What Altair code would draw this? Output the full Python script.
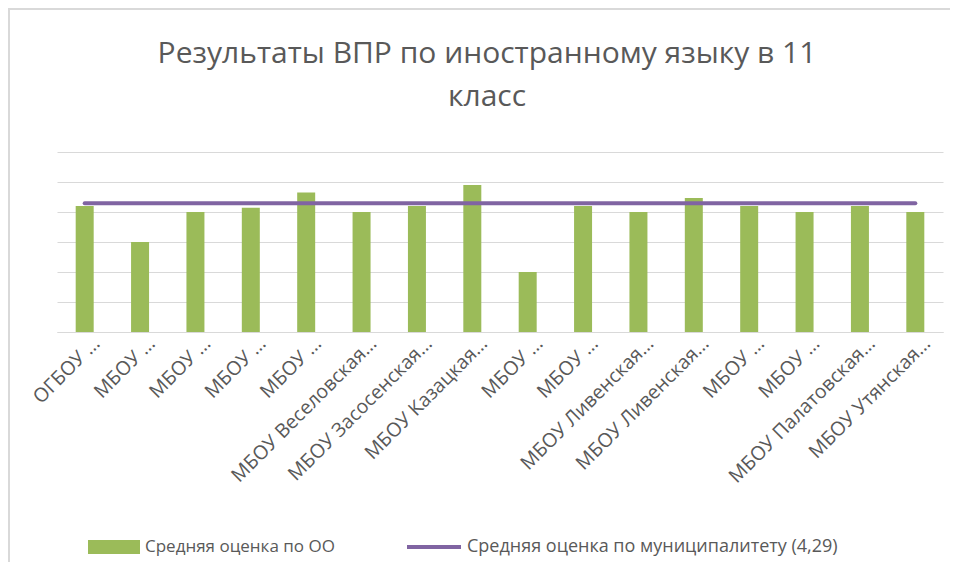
import json
import altair as alt
import pandas as pd

# ---- data ----
school_labels = [
    "ОГБОУ …", "МБОУ …", "МБОУ …", "МБОУ …", "МБОУ …",
    "МБОУ Веселовская…", "МБОУ Засосенская…", "МБОУ Казацкая…",
    "МБОУ …", "МБОУ …", "МБОУ Ливенская…", "МБОУ Ливенская…",
    "МБОУ …", "МБОУ …", "МБОУ Палатовская…", "МБОУ Утянская…",
]
school_scores = [4.2, 3.0, 4.0, 4.14, 4.65, 4.0, 4.2, 4.9,
                 2.0, 4.2, 4.0, 4.47, 4.2, 4.0, 4.2, 4.0]
municipal_avg = 4.29
series_bar = "Средняя оценка по ОО"
series_line = "Средняя оценка по муниципалитету (4,29)"
title_lines = ["Результаты ВПР по иностранному языку в 11", "класс"]
y_grid_values = [0, 1, 2, 3, 4, 5, 6]

GREEN = "#9BBB59"
PURPLE = "#8064A2"
TEXT = "#595959"
GRID = "#D9D9D9"
FONT = "Open Sans"

df = pd.DataFrame({
    "idx": list(range(len(school_labels))),
    "score": school_scores,
    "muni": [municipal_avg] * len(school_labels),
    "s1": [series_bar] * len(school_labels),
    "s2": [series_line] * len(school_labels),
})

label_expr = json.dumps(school_labels, ensure_ascii=False) + "[datum.value]"

W, H = 886, 180
PAD_L, PAD_T, PAD_R, PAD_B = 49, 144, 7, 230

x_enc = alt.X(
    "idx:O",
    title=None,
    scale=alt.Scale(paddingInner=0.675, paddingOuter=0.3375),
    axis=alt.Axis(
        labelExpr=label_expr, labelAngle=-45, labelAlign="right",
        labelBaseline="middle", labelFontSize=19.5, labelFont=FONT,
        labelColor=TEXT, ticks=False, domain=True, domainColor=GRID,
        domainWidth=1, labelPadding=8, labelOffset=12, grid=False,
        labelOverlap=False, labelLimit=400,
    ),
)
y_scale = alt.Scale(domain=[0, 6], nice=False)
y_axis = alt.Axis(labels=False, ticks=False, domain=False, grid=True,
                  gridColor=GRID, gridWidth=1, title=None,
                  values=y_grid_values)

base = alt.Chart(df)

frame = base.mark_rect(fill="transparent", stroke=GRID, strokeWidth=2).encode(
    x=alt.value(-PAD_L + 1), x2=alt.value(W + PAD_R + 2),
    y=alt.value(-PAD_T + 1), y2=alt.value(H + PAD_B + 20),
)

bars = base.mark_bar().encode(
    x=x_enc,
    y=alt.Y("score:Q", scale=y_scale, axis=y_axis),
    color=alt.Color(
        "s1:N",
        scale=alt.Scale(domain=[series_bar], range=[GREEN]),
        legend=alt.Legend(
            title=None, orient="none", legendX=31, legendY=369,
            symbolType="M-1,-0.27H1V0.27H-1Z", symbolSize=2704,
            symbolStrokeWidth=0, labelFont=FONT, labelFontSize=17,
            labelColor=TEXT, labelOffset=5, padding=0, labelLimit=600,
        ),
    ),
)

line = base.mark_line(strokeWidth=4, strokeCap="round").encode(
    x=x_enc,
    y=alt.Y("muni:Q", scale=y_scale, axis=y_axis),
    stroke=alt.Stroke(
        "s2:N",
        scale=alt.Scale(domain=[series_line], range=[PURPLE]),
        legend=alt.Legend(
            title=None, orient="none", legendX=348, legendY=366,
            symbolType="M-1,0H1", symbolSize=2916, symbolStrokeWidth=4,
            labelFont=FONT, labelFontSize=18, labelColor=TEXT,
            labelOffset=4, padding=0, labelLimit=600,
        ),
    ),
)

chart = alt.layer(frame, bars, line).properties(
    width=W, height=H,
    background="white",
    padding={"left": PAD_L, "top": PAD_T, "right": PAD_R, "bottom": PAD_B},
    autosize=alt.AutoSizeParams(type="none"),
    title=alt.TitleParams(
        title_lines, anchor="middle", frame="group", fontSize=30, font=FONT,
        fontWeight="normal", color=TEXT, offset=40, lineHeight=43, dx=-13,
        dy=PAD_T,
    ),
).configure_view(stroke="transparent", strokeWidth=0)

chart.save("out.html", embed_options={"renderer": "svg", "actions": False})
